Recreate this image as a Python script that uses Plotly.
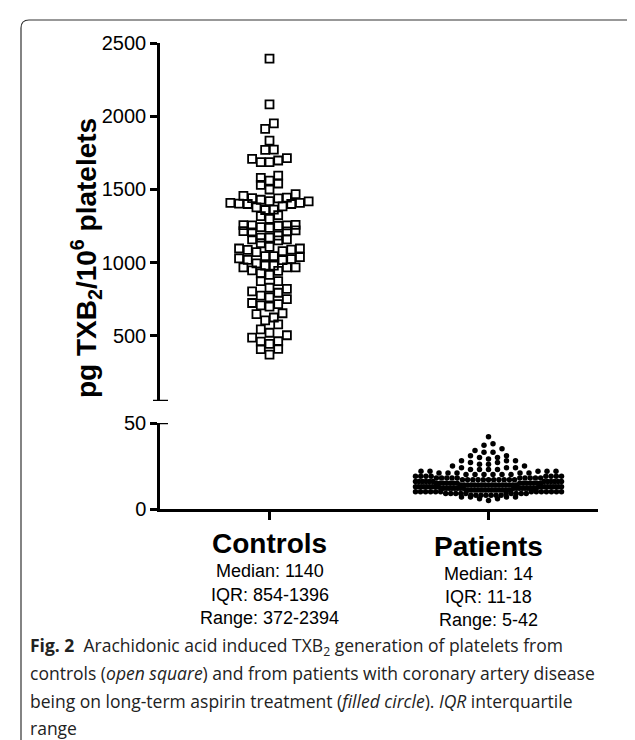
import numpy as np
import plotly.graph_objects as go

# ---------------- data ----------------
categories = ["Controls", "Patients"]
medians = ["1140", "14"]
iqrs = ["854-1396", "11-18"]
ranges_txt = ["372-2394", "5-42"]

controls = [2394, 2081, 1951, 1914, 1833, 1772, 1770, 1714, 1709, 1698, 1687, 1687,
            1595, 1579, 1561, 1541, 1532, 1500,
            1468, 1457, 1444, 1441, 1439, 1430,
            1421, 1419, 1408, 1408, 1403, 1401, 1401, 1385, 1378, 1363, 1360,
            1324, 1318, 1299,
            1259, 1257, 1255, 1255, 1252, 1243, 1238, 1221, 1216, 1214, 1207,
            1185, 1171, 1171, 1160, 1160, 1153, 1133,
            1108, 1097, 1097, 1090, 1088, 1079, 1072,
            1045, 1045, 1038, 1029, 1025, 1020, 1018, 995,
            980, 980, 968, 968, 968, 948, 944, 928, 917,
            874, 874, 829, 822, 804, 795, 775, 763, 752,
            725, 718, 709, 700, 655, 649, 626, 606, 579, 545, 522, 505, 489,
            464, 461, 446, 412, 410, 372]

patient_levels = [5, 6, 7, 8, 9, 10, 11, 12, 13, 14, 15, 16, 17, 18, 19, 20, 21, 22,
                  23, 24, 25, 26, 27, 28, 29, 30, 31, 33, 34, 35, 37, 38, 42]
patient_counts = [1, 2, 4, 7, 10, 13, 17, 18, 18, 17, 14, 12, 11, 10, 8, 6, 5, 5,
                  4, 3, 2, 2, 2, 3, 1, 2, 2, 2, 1, 1, 1, 1, 1]
patients = [lv for lv, c in zip(patient_levels, patient_counts) for _ in range(c)]

caption_lines = [
    "<b>Fig. 2</b>  Arachidonic acid induced TXB<sub>2</sub> generation of platelets from",
    "controls (<i>open square</i>) and from patients with coronary artery disease",
    "being on long-term aspirin treatment (<i>filled circle</i>). <i>IQR</i> interquartile",
    "range",
]

# ---------------- layout geometry (pixels) ----------------
W, H = 635, 740
L, R, T, B = 152, 45, 35, 239
PW, PH = W - L - R, H - T - B
X_AXIS_PX = H - B            # 501
UP_BOTTOM_PX = 393
LOW_TOP_PX = 415
UP_MIN = 56


def px_x(px):
    return (px - L) / PW


def px_y(py):
    return (X_AXIS_PX - py) / PH


def swarm(vals, center, bin_h, step, max_half):
    v = np.asarray(vals, float)
    idx = list(np.argsort(v, kind="stable"))
    xs = np.zeros(len(v))
    i = 0
    while i < len(idx):
        start = v[idx[i]]
        j = i
        while j < len(idx) and v[idx[j]] < start + bin_h:
            j += 1
        members = idx[i:j]
        n = len(members)
        s = step if n <= 1 else min(step, 2 * max_half / (n - 1))
        slots = []
        if n % 2 == 1:
            slots.append(0.0)
            k = 1
            while len(slots) < n:
                slots.append(-k)
                if len(slots) < n:
                    slots.append(k)
                k += 1
        else:
            k = 0.5
            while len(slots) < n:
                slots.append(-k)
                slots.append(k)
                k += 1
        for m, sl in zip(members, slots):
            xs[m] = center + sl * s
        i = j
    return xs

unit_px = PW / 2.0
cx = swarm(controls, 1, 60, 8.7 / unit_px, 0.45)
pxs = swarm(patients, 2, 3, 9.0 / unit_px, 73 / unit_px)

fig = go.Figure()
fig.add_trace(go.Scatter(
    x=cx, y=controls, mode="markers", xaxis="x", yaxis="y",
    marker=dict(symbol="square-open", size=8, color="black", line=dict(width=1.8, color="black")),
    showlegend=False, hoverinfo="y"))
fig.add_trace(go.Scatter(
    x=pxs, y=patients, mode="markers", xaxis="x", yaxis="y2",
    marker=dict(symbol="circle", size=5.5, color="black", line=dict(width=0)),
    showlegend=False, hoverinfo="y"))

axis_font = dict(family="Liberation Sans, Arial", size=20, color="black")
common = dict(showline=True, linewidth=2.5, linecolor="black", ticks="outside",
              ticklen=7, tickwidth=2.5, tickcolor="black", showgrid=False,
              zeroline=False, tickfont=axis_font, fixedrange=True)

fig.update_layout(
    width=W, height=H, margin=dict(l=L, r=R, t=T, b=B, pad=0),
    paper_bgcolor="white", plot_bgcolor="white",
    xaxis=dict(domain=[0, 1], anchor="y2", range=[0.5, 2.5], tickvals=[1, 2],
               ticktext=["", ""], showline=True, linewidth=2.5, linecolor="black",
               ticks="outside", ticklen=8, tickwidth=2.5, tickcolor="black",
               showgrid=False, zeroline=False, fixedrange=True),
    yaxis=dict(domain=[px_y(UP_BOTTOM_PX), 1], range=[UP_MIN, 2500],
               tickvals=[500, 1000, 1500, 2000, 2500], anchor="x", **common),
    yaxis2=dict(domain=[0, px_y(LOW_TOP_PX)], range=[0, 50], tickvals=[0, 50],
                anchor="x", **common),
)

shapes = [
    dict(type="line", xref="paper", yref="y", x0=px_x(L - 7), x1=px_x(L + 8),
         y0=UP_MIN, y1=UP_MIN, line=dict(color="black", width=2.5)),
    dict(type="line", xref="paper", yref="y2", x0=0, x1=px_x(L + 8),
         y0=50, y1=50, line=dict(color="black", width=2.5)),
]
frame = (f"M {px_x(13)},{px_y(740)} L {px_x(13)},{px_y(20)} "
         f"Q {px_x(13)},{px_y(12)} {px_x(21)},{px_y(12)} "
         f"L {px_x(626)},{px_y(12)} Q {px_x(633)},{px_y(12)} {px_x(634)},{px_y(19)}")
shapes.append(dict(type="path", xref="paper", yref="paper", path=frame,
                   line=dict(color="#333333", width=1.2)))
fig.update_layout(shapes=shapes)

ann = []
ann.append(dict(xref="paper", yref="paper", x=px_x(78), y=px_y(250),
                text="<b>pg TXB<sub>2</sub>/10<sup>6</sup> platelets</b>", textangle=-90,
                showarrow=False, font=dict(family="Liberation Sans, Arial", size=28, color="black"),
                xanchor="center", yanchor="middle"))
name_y = [535, 538]
line_y = [[563, 587, 610], [566, 589, 612]]
for i, cat in enumerate(categories):
    ann.append(dict(xref="x", yref="paper", x=i + 1, y=px_y(name_y[i]),
                    text=f"<b>{cat}</b>", showarrow=False,
                    font=dict(family="Liberation Sans, Arial", size=28, color="black"),
                    xanchor="center", yanchor="middle"))
    for t, yy in zip([f"Median: {medians[i]}", f"IQR: {iqrs[i]}", f"Range: {ranges_txt[i]}"],
                     line_y[i]):
        ann.append(dict(xref="x", yref="paper", x=i + 1, y=px_y(yy), text=t,
                        showarrow=False,
                        font=dict(family="Liberation Sans, Arial", size=18, color="black"),
                        xanchor="center", yanchor="middle"))
cap_y = [638, 665, 693, 720]
for t, yy in zip(caption_lines, cap_y):
    ann.append(dict(xref="paper", yref="paper", x=px_x(20), y=px_y(yy), text=t,
                    showarrow=False, font=dict(family="Open Sans", size=17.5, color="#222222"),
                    xanchor="left", yanchor="middle", align="left"))
fig.update_layout(annotations=ann)

fig.write_html("out.html")
